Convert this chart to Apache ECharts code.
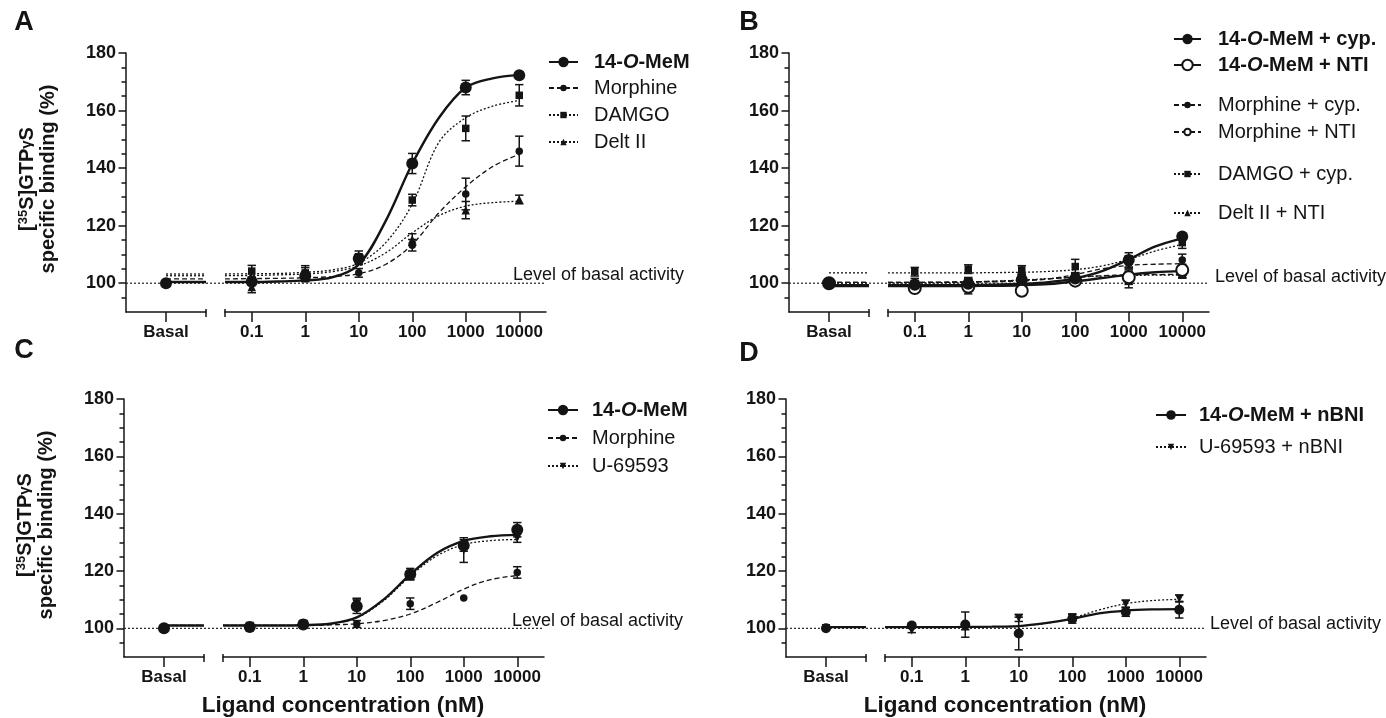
<!DOCTYPE html>
<html>
<head>
<meta charset="utf-8">
<script src="https://cdn.jsdelivr.net/npm/echarts@6/dist/echarts.min.js"></script>
<style>
  html, body { margin: 0; background: #fff; }
  #chart { width: 1386px; height: 718px; }
</style>
</head>
<body>
<div id="chart"></div>
<script>
// ---- data ----
const conc = [0.1, 1, 10, 100, 1000, 10000];
const xTickLabels = ['0.1', '1', '10', '100', '1000', '10000'];
const basalLabel = 'Basal';
const basalMean = 100;
const baseline = 100;
const yTickValues = [100, 120, 140, 160, 180];
const yMinorTicks = [95, 105, 110, 115, 125, 130, 135, 145, 150, 155, 165, 170, 175];
// fitted curves, read at half-decade steps from the left end of the log segment
const curveConc = [0.0316, 0.1, 0.316, 1, 3.16, 10, 31.6, 100, 316, 1000, 3162, 10000];

// A
const aMemMean = [100.5, 102.5, 108.6, 141.6, 168, 172.3];
const aMemErr = [1, 1.5, 1.5, 3.5, 2.5, 1];
const aMemCurve = [100.4, 100.4, 100.6, 101, 102, 106.5, 121.5, 141.5, 157.5, 168, 171.2, 172.3];
const aMorMean = [100.8, 102, 103.6, 113.2, 131, 145.9];
const aMorErr = [1, 1.5, 1.5, 2, 5.5, 5.2];
const aMorCurve = [101.5, 101.6, 101.7, 101.9, 102.3, 103.3, 106.5, 113.5, 124.5, 133.5, 140.5, 144.8];
const aDamMean = [104.2, 103.6, 109.2, 128.9, 153.8, 165.3];
const aDamErr = [2, 2.5, 2, 2, 4.3, 3.7];
const aDamCurve = [103.2, 103.3, 103.4, 103.8, 104.6, 107, 114, 127.5, 149, 157.5, 161.5, 163.5];
const aDelMean = [98.7, 103.4, 108, 115.2, 125.4, 129.1];
const aDelErr = [2, 2, 1.5, 2, 3, 1.5];
const aDelCurve = [102.6, 102.7, 102.9, 103.2, 104, 106, 110.5, 117.5, 123.5, 126.8, 128, 128.5];

// B
const bMemCypMean = [99.5, 99.8, 101.2, 101.6, 108.1, 116.2];
const bMemCypErr = [1.5, 1.5, 2, 2, 2.5, 1];
const bMemCypCurve = [99.3, 99.3, 99.3, 99.4, 99.5, 99.8, 100.4, 101.7, 104.2, 108.3, 112.8, 115.6];
const bMemNtiMean = [98.3, 98.8, 97.4, 100.9, 102.1, 104.6];
const bMemNtiErr = [1.5, 2.5, 0.8, 1.2, 2.5, 2];
const bMemNtiCurve = [99, 99, 99, 99.05, 99.1, 99.3, 99.7, 100.6, 101.8, 103, 103.8, 104.2];
const bMorCypMean = [100.2, 100.5, 101.3, 102.2, 107, 108.1];
const bMorCypErr = [1.5, 1.5, 1.5, 1.5, 2, 2];
const bMorCypCurve = [100.3, 100.3, 100.3, 100.4, 100.5, 100.8, 101.5, 103, 105, 106.2, 106.6, 106.8];
const bMorNtiMean = [99.4, 100.2, 101.5, 101.3, 102.3, 103.3];
const bMorNtiErr = [1, 1.5, 1.5, 1.2, 1.5, 1.5];
const bMorNtiCurve = [100.3, 100.3, 100.4, 100.5, 100.7, 101, 101.5, 102.1, 102.6, 102.9, 103, 103.1];
const bDamCypMean = [104, 104.9, 104.6, 105.8, 107.5, 114.1];
const bDamCypErr = [1.5, 1.5, 1.5, 2.5, 2, 2];
const bDamCypCurve = [103.6, 103.6, 103.6, 103.6, 103.7, 103.8, 104.1, 104.7, 106, 108.3, 111.2, 113.5];
const bDelNtiMean = [98.8, 100.3, 101, 102, 101.2, 103.3];
const bDelNtiErr = [1, 1, 1.2, 1.2, 2.8, 1.5];
const bDelNtiCurve = [100.1, 100.1, 100.2, 100.4, 100.7, 101.1, 101.6, 102.1, 102.5, 102.7, 102.8, 102.8];

// C
const cMemMean = [100.5, 101.3, 107.7, 118.9, 128.9, 134.4];
const cMemErr = [0.8, 1.2, 2.5, 2, 2, 2.5];
const cMemCurve = [101, 101, 101, 101.1, 101.6, 103.8, 110, 118.8, 126.3, 130.5, 132.1, 132.6];
const cMorMean = [100.7, 101.1, 101.5, 108.6, 110.6, 119.5];
const cMorErr = [0.6, 1, 1.2, 2, 0, 2];
const cMorCurve = [101, 101, 101, 101, 101.2, 101.6, 102.7, 105, 109, 113.7, 117, 118.4];
const cUMean = [100.8, 101.5, 108.5, 118.5, 127.3, 131.5];
const cUErr = [0.8, 1.2, 2, 1.5, 4.3, 1.5];
const cUCurve = [101, 101, 101, 101.1, 101.6, 103.7, 109.6, 118.2, 125.3, 129.2, 130.6, 131];

// D
const dMemMean = [101, 101.3, 98.2, 103.3, 105.7, 106.5];
const dMemErr = [0.8, 4.4, 5.7, 1.5, 1.5, 2.9];
const dMemCurve = [100.4, 100.4, 100.4, 100.5, 100.6, 100.8, 101.8, 103.3, 105.2, 106.2, 106.6, 106.7];
const dUMean = [99.3, 100.5, 103.6, 103.8, 108.6, 110.4];
const dUErr = [0.8, 1, 1.2, 1.2, 1.2, 1.2];
const dUCurve = [100.3, 100.3, 100.3, 100.4, 100.5, 100.8, 101.7, 103.6, 106.4, 108.6, 109.7, 110.1];

// ---- styling ----
const FONT = '"Liberation Sans", Arial, Helvetica, sans-serif';
const INK = '#141414';
const Y_MIN = 90, Y_MAX = 180;
const LOG_MIN = Math.pow(10, -1.5);
const LOG_MAX = Math.pow(10, 4.5);
const lineTypes = { solid: 'solid', dashed: [5, 3], dotted: [2, 2] };
const looks = {
  memBig:    { line: 'solid',  width: 2.4, symbol: 'circle', size: 12 },
  memOpen:   { line: 'solid',  width: 2.4, symbol: 'emptyCircle', size: 12 },
  memMid:    { line: 'solid',  width: 2.2, symbol: 'circle', size: 10 },
  dashDot:   { line: 'dashed', width: 1.3, symbol: 'circle', size: 7.5 },
  dashOpen:  { line: 'dashed', width: 1.3, symbol: 'emptyCircle', size: 7.5 },
  dotSquare: { line: 'dotted', width: 1.3, symbol: 'rect', size: 7.5 },
  dotTri:    { line: 'dotted', width: 1.3, symbol: 'triangle', size: 8.5 },
  dotDown:   { line: 'dotted', width: 1.3, symbol: 'path://M0,0L10,0L5,9Z', size: 8.5 }
};

const panels = [
  {
    letter: 'A', letterPos: [24, 23], left: 126, top: 53, height: 259,
    yTitle: true, xTitle: false, levelOffset: [-33, -8],
    sets: [
      { name: '14-O-MeM', look: 'memBig', mean: aMemMean, err: aMemErr, curve: aMemCurve },
      { name: 'Morphine', look: 'dashDot', mean: aMorMean, err: aMorErr, curve: aMorCurve },
      { name: 'DAMGO', look: 'dotSquare', mean: aDamMean, err: aDamErr, curve: aDamCurve },
      { name: 'Delt II', look: 'dotTri', mean: aDelMean, err: aDelErr, curve: aDelCurve }
    ],
    legends: [
      { names: ['14-O-MeM'], left: 548, top: 52, gap: 6, w: 29, h: 13, pad: 11 },
      { names: ['Morphine', 'DAMGO', 'Delt II'], left: 548, top: 78, gap: 7, w: 29, h: 8, pad: 11 }
    ]
  },
  {
    letter: 'B', letterPos: [749, 23], left: 789, top: 53, height: 259,
    yTitle: false, xTitle: false, levelOffset: [6, -6],
    sets: [
      { name: '14-O-MeM + cyp.', look: 'memBig', mean: bMemCypMean, err: bMemCypErr, curve: bMemCypCurve },
      { name: '14-O-MeM + NTI', look: 'memOpen', mean: bMemNtiMean, err: bMemNtiErr, curve: bMemNtiCurve },
      { name: 'Morphine + cyp.', look: 'dashDot', mean: bMorCypMean, err: bMorCypErr, curve: bMorCypCurve },
      { name: 'Morphine + NTI', look: 'dashOpen', mean: bMorNtiMean, err: bMorNtiErr, curve: bMorNtiCurve },
      { name: 'DAMGO + cyp.', look: 'dotSquare', mean: bDamCypMean, err: bDamCypErr, curve: bDamCypCurve },
      { name: 'Delt II + NTI', look: 'dotTri', mean: bDelNtiMean, err: bDelNtiErr, curve: bDelNtiCurve }
    ],
    legends: [
      { names: ['14-O-MeM + cyp.', '14-O-MeM + NTI'], left: 1173, top: 29, gap: 6, w: 27, h: 13, pad: 12 },
      { names: ['Morphine + cyp.', 'Morphine + NTI'], left: 1173, top: 95, gap: 7, w: 27, h: 8, pad: 12 },
      { names: ['DAMGO + cyp.'], left: 1173, top: 164, gap: 7, w: 27, h: 8, pad: 12 },
      { names: ['Delt II + NTI'], left: 1173, top: 203, gap: 7, w: 27, h: 8, pad: 12 }
    ]
  },
  {
    letter: 'C', letterPos: [24, 351], left: 124, top: 399, height: 258,
    yTitle: true, xTitle: true, levelOffset: [-32, -7],
    sets: [
      { name: '14-O-MeM', look: 'memBig', mean: cMemMean, err: cMemErr, curve: cMemCurve },
      { name: 'Morphine', look: 'dashDot', mean: cMorMean, err: cMorErr, curve: cMorCurve },
      { name: 'U-69593', look: 'dotDown', mean: cUMean, err: cUErr, curve: cUCurve }
    ],
    legends: [
      { names: ['14-O-MeM'], left: 547, top: 400, gap: 8, w: 30, h: 13, pad: 9 },
      { names: ['Morphine', 'U-69593'], left: 547, top: 428, gap: 8, w: 30, h: 8, pad: 9 }
    ]
  },
  {
    letter: 'D', letterPos: [749, 354], left: 786, top: 399, height: 258,
    yTitle: false, xTitle: true, levelOffset: [4, -4],
    sets: [
      { name: '14-O-MeM + nBNI', look: 'memMid', mean: dMemMean, err: dMemErr, curve: dMemCurve },
      { name: 'U-69593 + nBNI', look: 'dotDown', mean: dUMean, err: dUErr, curve: dUCurve }
    ],
    legends: [
      { names: ['14-O-MeM + nBNI'], left: 1155, top: 405, gap: 8, w: 30, h: 12, pad: 8 },
      { names: ['U-69593 + nBNI'], left: 1155, top: 437, gap: 8, w: 30, h: 8, pad: 8 }
    ]
  }
];

const option = {
  animation: false,
  backgroundColor: '#ffffff',
  grid: [], xAxis: [], yAxis: [], series: [], legend: [], graphic: []
};

const axisLineStyle = { color: INK, width: 1.5 };
const yTickLabel = { color: INK, fontFamily: FONT, fontWeight: 'bold', fontSize: 18 };
const xTickLabel = { color: INK, fontFamily: FONT, fontWeight: 'bold', fontSize: 17 };

function nearestLabel(v) {
  let best = 0;
  conc.forEach((c, i) => {
    if (Math.abs(Math.log10(c / v)) < Math.abs(Math.log10(conc[best] / v))) best = i;
  });
  return xTickLabels[best];
}

function hiddenY(gridIndex) {
  return { gridIndex, type: 'value', min: Y_MIN, max: Y_MAX, position: 'left', show: false,
    axisLine: { onZero: false }, splitLine: { show: false } };
}

function errorBar(params, api) {
  const x = api.value(0);
  const top = api.coord([x, api.value(2)]);
  const bot = api.coord([x, api.value(1)]);
  const w = 4.2;
  const style = { stroke: INK, lineWidth: 1.5 };
  return {
    type: 'group',
    children: [
      { type: 'line', shape: { x1: top[0], y1: top[1], x2: bot[0], y2: bot[1] }, style },
      { type: 'line', shape: { x1: top[0] - w, y1: top[1], x2: top[0] + w, y2: top[1] }, style },
      { type: 'line', shape: { x1: bot[0] - w, y1: bot[1], x2: bot[0] + w, y2: bot[1] }, style }
    ]
  };
}

function legendName(name) {
  if (name.indexOf('14-O-MeM') === 0) {
    return '{b|14-}{bi|O}{b|' + name.slice(4) + '}';
  }
  return name;
}

panels.forEach(p => {
  const gB = option.grid.length;
  option.grid.push({ left: p.left, top: p.top, width: 80, height: p.height, outerBoundsMode: 'none' });
  option.grid.push({ left: p.left + 99, top: p.top, width: 321, height: p.height, outerBoundsMode: 'none' });
  option.grid.push({ left: p.left, top: p.top, width: 420, height: p.height, outerBoundsMode: 'none' });
  const gL = gB + 1, gF = gB + 2;

  // x axes: basal segment
  const xB = option.xAxis.length;
  option.xAxis.push({
    gridIndex: gB, type: 'value', min: 0, max: 2, position: 'bottom',
    axisLine: { onZero: false, lineStyle: axisLineStyle },
    axisTick: { customValues: [1], length: 10, lineStyle: axisLineStyle },
    axisLabel: Object.assign({ customValues: [1], margin: 12, formatter: () => basalLabel }, xTickLabel),
    splitLine: { show: false }
  });
  option.xAxis.push({
    gridIndex: gB, type: 'value', min: 0, max: 2, position: 'bottom', offset: -3,
    axisLine: { show: false, onZero: false },
    axisTick: { customValues: [2], length: 8, lineStyle: axisLineStyle },
    axisLabel: { show: false }, splitLine: { show: false }
  });
  // x axes: log segment
  const xL = option.xAxis.length;
  option.xAxis.push({
    gridIndex: gL, type: 'log', logBase: 10, min: LOG_MIN, max: LOG_MAX, position: 'bottom',
    axisLine: { onZero: false, lineStyle: axisLineStyle },
    axisTick: { customValues: conc, length: 10, lineStyle: axisLineStyle },
    axisLabel: Object.assign({ customValues: conc, margin: 12, formatter: v => nearestLabel(v) }, xTickLabel),
    splitLine: { show: false }, minorTick: { show: false }
  });
  option.xAxis.push({
    gridIndex: gL, type: 'log', logBase: 10, min: LOG_MIN, max: LOG_MAX, position: 'bottom', offset: -3,
    axisLine: { show: false, onZero: false },
    axisTick: { customValues: [LOG_MIN * 1.003], length: 8, lineStyle: axisLineStyle },
    axisLabel: { show: false }, splitLine: { show: false }
  });
  const xF = option.xAxis.length;
  option.xAxis.push({ gridIndex: gF, type: 'value', min: 0, max: 1, position: 'bottom', show: false,
    axisLine: { onZero: false }, splitLine: { show: false } });

  // y axes
  const yB = option.yAxis.length;
  option.yAxis.push({
    gridIndex: gB, type: 'value', min: Y_MIN, max: Y_MAX, position: 'left',
    axisLine: { show: true, onZero: false, lineStyle: axisLineStyle },
    axisTick: { show: true, customValues: yTickValues, length: 7.5, lineStyle: axisLineStyle },
    axisLabel: Object.assign({ customValues: yTickValues, margin: 10 }, yTickLabel),
    splitLine: { show: false }
  });
  option.yAxis.push({
    gridIndex: gB, type: 'value', min: Y_MIN, max: Y_MAX, position: 'left',
    axisLine: { show: false, onZero: false },
    axisTick: { show: true, customValues: yMinorTicks, length: 4.5, lineStyle: axisLineStyle },
    axisLabel: { show: false }, splitLine: { show: false }
  });
  const yL = option.yAxis.length;
  option.yAxis.push(hiddenY(gL));
  const yF = option.yAxis.length;
  option.yAxis.push(hiddenY(gF));

  // basal activity reference line across the whole panel
  option.series.push({
    type: 'line', xAxisIndex: xF, yAxisIndex: yF, silent: true, z: 1,
    data: [[0, baseline], [1, baseline]], showSymbol: false, symbol: 'none',
    lineStyle: { color: '#222', width: 1.2, type: [2, 2] }
  });
  option.series.push({
    type: 'scatter', xAxisIndex: xF, yAxisIndex: yF, silent: true, clip: false, z: 1,
    data: [[1, baseline]], symbolSize: 0, itemStyle: { color: 'rgba(0,0,0,0)', opacity: 1 },
    label: {
      show: true, position: 'right', distance: 0, offset: p.levelOffset, opacity: 1,
      formatter: 'Level of basal activity', color: INK, fontFamily: FONT, fontSize: 18
    }
  });

  const n = p.sets.length;
  p.sets.forEach((s, k) => {
    const lk = looks[s.look];
    const empty = lk.symbol.indexOf('empty') === 0;
    const lineStyle = { color: INK, width: lk.width, type: lineTypes[lk.line] };
    const itemStyle = { color: INK, borderColor: INK, opacity: 1, borderWidth: empty ? (lk.size > 10 ? 2 : 1.3) : 0 };
    const zPts = 10 + (n - k);
    // fitted curve over the log segment
    option.series.push({
      name: s.name, type: 'line', xAxisIndex: xL, yAxisIndex: yL, silent: true, z: 2,
      data: curveConc.map((c, i) => [c, s.curve[i]]),
      smooth: 0.35, showSymbol: false, symbol: lk.symbol, symbolSize: lk.size,
      lineStyle, itemStyle
    });
    // curve carried through the basal segment
    option.series.push({
      name: s.name, type: 'line', xAxisIndex: xB, yAxisIndex: yB, silent: true, z: 2,
      data: [[1, s.curve[0]], [2, s.curve[0]]], showSymbol: false, symbol: 'none', lineStyle
    });
    // SEM bars
    option.series.push({
      name: s.name, type: 'custom', xAxisIndex: xL, yAxisIndex: yL, silent: true, z: 3,
      encode: { x: 0, y: [1, 2] },
      data: conc.map((c, i) => [c, s.mean[i] - s.err[i], s.mean[i] + s.err[i]]).filter((d, i) => s.err[i] > 0),
      renderItem: errorBar
    });
    // means
    option.series.push({
      name: s.name, type: 'scatter', xAxisIndex: xL, yAxisIndex: yL, silent: true, z: zPts,
      data: conc.map((c, i) => [c, s.mean[i]]), symbol: lk.symbol, symbolSize: lk.size, itemStyle
    });
    option.series.push({
      name: s.name, type: 'scatter', xAxisIndex: xB, yAxisIndex: yB, silent: true, z: zPts,
      data: [[1, basalMean]], symbol: lk.symbol, symbolSize: lk.size, itemStyle
    });
  });

  p.legends.forEach(lg => {
    option.legend.push({
      data: lg.names, orient: 'vertical', left: lg.left, top: lg.top, padding: 0,
      itemGap: lg.gap, itemWidth: lg.w, itemHeight: lg.h, selectedMode: false,
      formatter: legendName,
      textStyle: {
        color: INK, fontFamily: FONT, fontSize: 20, lineHeight: 20, padding: [0, 0, 0, lg.pad],
        rich: {
          b: { color: INK, fontFamily: FONT, fontSize: 20, lineHeight: 20, fontWeight: 'bold' },
          bi: { color: INK, fontFamily: FONT, fontSize: 20, lineHeight: 20, fontWeight: 'bold', fontStyle: 'italic' }
        }
      }
    });
  });

  option.graphic.push({
    type: 'text', x: p.letterPos[0], y: p.letterPos[1], silent: true,
    style: { text: p.letter, fill: INK, font: 'bold 27px ' + FONT, textAlign: 'center', textVerticalAlign: 'middle', align: 'center', verticalAlign: 'middle' }
  });

  if (p.yTitle) {
    const midY = p.top + 126;
    option.graphic.push({
      type: 'text', x: p.left - 99, y: midY, rotation: Math.PI / 2, silent: true,
      style: {
        text: '{t|[}{s|35}{t|S]GTP}{g|\u03b3}{t|S}',
        textAlign: 'center', textVerticalAlign: 'middle', align: 'center', verticalAlign: 'middle',
        rich: {
          t: { fill: INK, fontFamily: FONT, fontWeight: 'bold', fontSize: 20 },
          s: { fill: INK, fontFamily: FONT, fontWeight: 'bold', fontSize: 13, verticalAlign: 'top' },
          g: { fill: INK, fontFamily: FONT, fontWeight: 'bold', fontSize: 15 }
        }
      }
    });
    option.graphic.push({
      type: 'text', x: p.left - 78, y: midY, rotation: Math.PI / 2, silent: true,
      style: {
        text: 'specific binding (%)', fill: INK, font: 'bold 20px ' + FONT,
        textAlign: 'center', textVerticalAlign: 'middle', align: 'center', verticalAlign: 'middle'
      }
    });
  }
  if (p.xTitle) {
    option.graphic.push({
      type: 'text', x: p.left + 219, y: 706, silent: true,
      style: {
        text: 'Ligand concentration (nM)', fill: INK, font: 'bold 22.5px ' + FONT,
        textAlign: 'center', textVerticalAlign: 'middle', align: 'center', verticalAlign: 'middle'
      }
    });
  }
});

const chart = echarts.init(document.getElementById('chart'), null, { renderer: 'canvas' });
chart.setOption(option);
</script>
</body>
</html>
